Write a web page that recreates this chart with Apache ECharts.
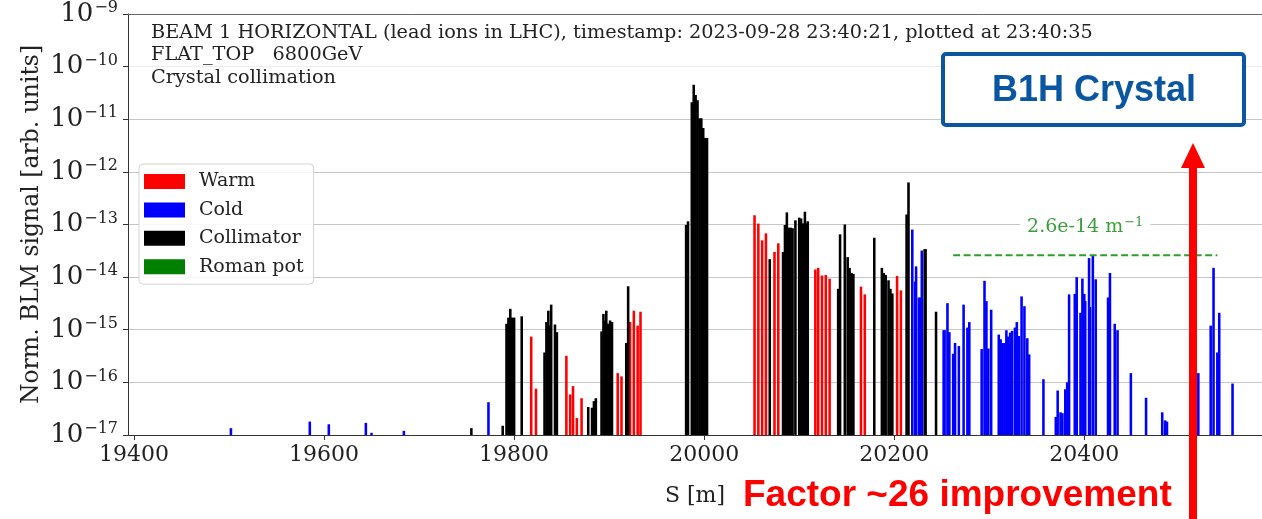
<!DOCTYPE html>
<html>
<head>
<meta charset="utf-8">
<script src="https://cdn.jsdelivr.net/npm/echarts@6/dist/echarts.min.js"></script>
<style>
html,body{margin:0;padding:0;background:#fff;}
#c{width:1262px;height:519px;}
</style>
</head>
<body>
<div id="c"></div>
<script>
// ---------------- data (S position [m], normalized BLM signal) ----------------
const warmS = [19818,19823,19855,19859,19862,19866,19871,19909,19913,19922,19926,19930,19933,
  20053,20057,20061,20065,20074,20078,20117,20120,20124,20128,20132,20165,20169,20203,20207];
const warmV = [7.4e-16,7.6e-17,3.2e-16,5.9e-17,8.5e-17,2.1e-17,5e-17,1.5e-16,1.3e-16,1.4e-15,2.3e-15,1.2e-15,2.2e-15,
  1.5e-13,1.04e-13,5e-14,6.8e-14,3e-14,4.4e-14,1.4e-14,1.5e-14,1.07e-14,1.1e-14,9.3e-15,6.6e-15,4.7e-15,1.05e-14,5.6e-15];

const coldS = [19502,19585,19605,19644,19650,19684,19773,
  20219,20222,20223,20226,20228,20229,
  20252,20253,20256,20258,20262,20264,20268,20273,20277,20279,
  20292,20295,20297,20299,20302,20310,20312,20314,20316,20318,20320,20322,20324,20327,20329,20331,
  20334,20337,20340,20342,20357,
  20370,20372,20375,20377,20380,20382,20384,20390,20392,20396,20398,20400,20401,20405,20406,20409,20412,
  20425,20427,20432,20435,20449,20465,20482,20485,20487,20520,20533,20536,20540,20542,20556];
const coldV = [1.35e-17,1.8e-17,1.6e-17,1.7e-17,1.1e-17,1.2e-17,4.2e-17,
  8e-14,8.2e-15,1.6e-14,4.1e-15,4.1e-15,3.2e-14,
  9.8e-16,9.8e-16,3.2e-15,9e-16,3.5e-16,5.6e-16,4.9e-16,3e-15,1.1e-15,1.4e-15,
  4.3e-16,8.5e-15,3.5e-15,4.4e-16,2.4e-15,8.1e-16,6.6e-16,5.6e-16,5.6e-16,9.8e-16,7.4e-16,8.8e-16,9.5e-16,1.1e-15,1.4e-15,7.6e-16,
  4.3e-15,2.8e-15,6.9e-16,3.4e-16,1.15e-16,
  2.2e-17,7e-17,2.7e-17,2.6e-17,7.4e-17,1e-16,4.7e-15,4.8e-15,1e-14,2.1e-15,9.4e-15,4.8e-15,3.5e-15,2.3e-14,2.7e-15,2.6e-14,9.1e-15,
  4.1e-15,1.2e-14,1.3e-15,9.8e-16,1.5e-16,5.1e-17,2.7e-17,1.9e-17,1.8e-17,1.5e-16,1.2e-15,1.5e-14,3.7e-16,2.1e-15,9.5e-17];

const collS = [19755,19788,19792,19794,19796,19798,19800,19808,
  19832,19834,19836,19837,19839,19843,19845,
  19878,19882,19884,19886,19892,19894,19895,19897,19899,19901,19903,19918,19920,
  19981,19983,19987,19989,19991,19993,19995,19997,19999,20001,20003,
  20069,20083,20085,20087,20089,20091,20093,20096,20100,20102,20104,20106,20107,20109,
  20141,20143,20148,20151,20153,20155,20157,20179,20187,20189,20191,20194,20196,20198,
  20213,20215,20232,20233,20244];
const collV = [1.35e-17,1.5e-17,1.3e-15,1.7e-15,2.5e-15,1.7e-15,1.7e-15,1.8e-15,
  3.7e-16,1.4e-15,2.3e-15,1.2e-15,3e-15,1.26e-15,9e-16,
  3.4e-17,3.3e-17,4.4e-17,5e-17,9.3e-16,2e-15,1.5e-15,2.3e-15,1.3e-15,1.5e-15,1.4e-15,5.6e-16,6.7e-15,
  9.8e-14,1.15e-13,2.1e-11,4.5e-11,2.9e-11,2.3e-11,1.05e-11,1.05e-11,6.8e-12,4.4e-12,4.4e-12,
  2.2e-14,3e-14,9.8e-14,1.7e-13,8.7e-14,8.7e-14,8.5e-14,1.2e-13,1.35e-13,1.3e-13,1.05e-13,1.75e-13,1.05e-13,1.15e-13,
  6e-15,6.5e-14,1e-13,2.4e-14,1.5e-14,1.2e-14,1.15e-14,5.6e-14,1.5e-14,1.2e-14,1.1e-14,8.7e-15,6e-15,4.9e-15,
  1.55e-13,6.3e-13,3.4e-14,3.4e-14,2.2e-15];

const romanS = [];
const romanV = [];

const levelS = [20262, 20540];
const levelV = [2.6e-14, 2.6e-14];
const levelLabel = '2.6e-14 m';

const xTicks = [19400, 19600, 19800, 20000, 20200, 20400];
const xMin = 19393.7, xMax = 20587;
const yMin = 1e-17, yMax = 1e-9;

const titleLines = [
  'BEAM 1 HORIZONTAL (lead ions in LHC), timestamp: 2023-09-28 23:40:21, plotted at 23:40:35',
  'FLAT_TOP   6800GeV',
  'Crystal collimation'
];
// ---------------------------------------------------------------------------

const SERIF = 'DejaVu Serif';
const BAR_W = 2.7;

function barSeries(name, sArr, vArr, color) {
  return {
    type: 'custom', name: name, coordinateSystem: 'cartesian2d', clip: true,
    itemStyle: {color: color},
    encode: {x: 0, y: 1},
    data: sArr.map((s, i) => [s, vArr[i]]),
    renderItem: function (params, api) {
      const s = api.value(0), v = api.value(1);
      const top = api.coord([s, v]);
      const base = api.coord([s, yMin]);
      const x0 = api.coord([s - BAR_W / 2, v])[0];
      const x1 = api.coord([s + BAR_W / 2, v])[0];
      return {type: 'rect', shape: {x: x0, y: top[1], width: x1 - x0, height: base[1] - top[1]},
        style: {fill: color}};
    }
  };
}

const chart = echarts.init(document.getElementById('c'), null, {renderer: 'canvas'});

const gridColors = ['#c6c6c6','#c6c6c6','#c6c6c6','#c6c6c6','#c6c6c6','#c6c6c6','#c6c6c6','#ededed','#c6c6c6'];

const option = {
  backgroundColor: '#fff',
  animation: false,
  grid: {left: 128, right: 0, top: 14, bottom: 84, containLabel: false},
  legend: {
    orient: 'vertical', left: 139, top: 164,
    padding: [8, 10, 8, 5],
    itemWidth: 41, itemHeight: 15, itemGap: 9.4,
    icon: 'rect',
    borderColor: '#d4d4d4', borderWidth: 1, borderRadius: 4,
    backgroundColor: 'rgba(255,255,255,0.85)',
    textStyle: {fontFamily: SERIF, fontSize: 19, color: '#222', padding: [0, 0, 0, 9]},
    data: ['Warm', 'Cold', 'Collimator', 'Roman pot']
  },
  xAxis: [{
    type: 'value', min: xMin, max: xMax,
    name: 'S [m]', nameLocation: 'middle', nameGap: 50,
    nameTextStyle: {fontFamily: SERIF, fontSize: 22, color: '#222'},
    axisLine: {show: true, onZero: false, lineStyle: {color: '#333', width: 1}},
    axisTick: {show: true, length: 5, customValues: xTicks, lineStyle: {color: '#333'}},
    axisLabel: {customValues: xTicks, fontFamily: SERIF, fontSize: 22, color: '#222', margin: 9,
      formatter: v => String(v)},
    splitLine: {show: false}
  }, {
    type: 'value', position: 'top', min: xMin, max: xMax,
    axisLine: {show: true, onZero: false, lineStyle: {color: '#666', width: 1}},
    axisTick: {show: false}, axisLabel: {show: false}, splitLine: {show: false}
  }],
  yAxis: {
    type: 'log', logBase: 10, min: yMin, max: yMax, interval: 1,
    name: 'Norm. BLM signal [arb. units]', nameLocation: 'middle', nameGap: 84,
    nameMoveOverlap: false,
    nameTextStyle: {fontFamily: SERIF, fontSize: 23.5, color: '#222'},
    axisLine: {show: true, lineStyle: {color: '#333', width: 1}},
    axisTick: {show: true, length: 5, lineStyle: {color: '#333'}},
    minorTick: {show: false},
    splitLine: {show: true, lineStyle: {color: gridColors, width: 1.2}},
    axisLabel: {
      margin: 10,
      formatter: function (v) {
        const e = Math.round(Math.log10(v));
        return '{b|10}{s|' + (e < 0 ? '\u2212' : '') + Math.abs(e) + '}';
      },
      rich: {
        b: {fontFamily: SERIF, fontSize: 26, color: '#222', lineHeight: 30},
        s: {fontFamily: SERIF, fontSize: 16, color: '#222', lineHeight: 30, padding: [0, 0, 12, 1]}
      }
    }
  },
  series: [
    barSeries('Warm', warmS, warmV, '#ff0000'),
    barSeries('Cold', coldS, coldV, '#0000ff'),
    barSeries('Collimator', collS, collV, '#000000'),
    barSeries('Roman pot', romanS, romanV, '#008000'),
    {
      type: 'line', name: 'level', data: levelS.map((s, i) => [s, levelV[i]]),
      showSymbol: false, symbol: 'none', silent: true, z: 5,
      lineStyle: {color: '#2ca02c', width: 2, type: [7, 3.5]}
    }
  ]
};
chart.setOption(option);

// annotations
const lvlPix = chart.convertToPixel({gridIndex: 0}, [(levelS[0] + levelS[1]) / 2, levelV[0]]);
const graphics = [];
titleLines.forEach((t, i) => {
  graphics.push({type: 'text', left: 151, top: 23 + i * 22.5, z: 50,
    style: {text: t, fontFamily: SERIF, fontSize: 19.3, fill: '#222'}});
});
graphics.push({
  type: 'text', x: lvlPix[0], y: lvlPix[1] - 28, z: 40,
  style: {
    text: '{m|' + levelLabel + '}{s|\u22121}', align: 'center', verticalAlign: 'middle',
    backgroundColor: '#fff', padding: [2, 7, 2, 7],
    rich: {
      m: {fontFamily: SERIF, fontSize: 19, fill: '#3a9f3a', lineHeight: 24},
      s: {fontFamily: SERIF, fontSize: 13, fill: '#3a9f3a', lineHeight: 24, padding: [0, 0, 10, 1]}
    }
  }
});
// B1H Crystal box
graphics.push({type: 'rect', z: 60, shape: {x: 943, y: 54, width: 301, height: 71, r: 3},
  style: {fill: '#fff', stroke: '#0a56a0', lineWidth: 4}});
graphics.push({type: 'text', z: 61, x: 1094, y: 91,
  style: {text: 'B1H Crystal', align: 'center', verticalAlign: 'middle',
    fontFamily: 'Liberation Sans', fontWeight: 'bold', fontSize: 36, fill: '#0a56a0'}});
// red arrow
graphics.push({type: 'rect', z: 70, shape: {x: 1189, y: 164, width: 8, height: 360}, style: {fill: '#ff0000'}});
graphics.push({type: 'polygon', z: 70, shape: {points: [[1193, 143], [1181, 168], [1205, 168]]}, style: {fill: '#ff0000'}});
graphics.push({type: 'text', z: 70, x: 743, y: 496,
  style: {text: 'Factor ~26 improvement', align: 'left', verticalAlign: 'middle',
    fontFamily: 'Liberation Sans', fontWeight: 'bold', fontSize: 37, fill: '#ff0000'}});
chart.setOption({graphic: graphics});
</script>
</body>
</html>
